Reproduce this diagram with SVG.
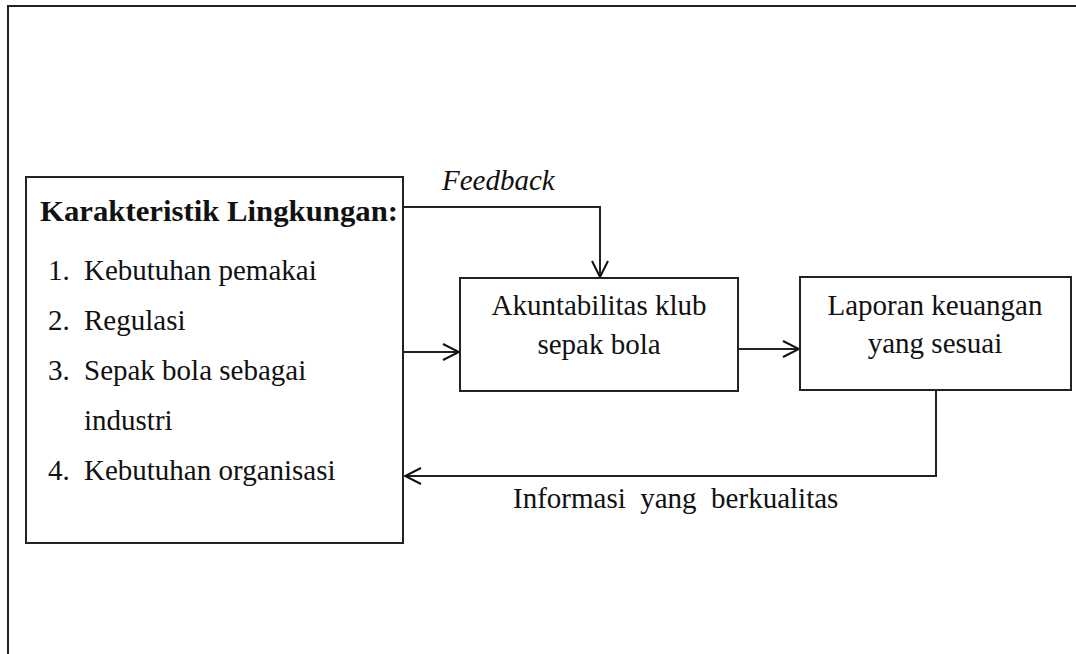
<svg xmlns="http://www.w3.org/2000/svg" width="1076" height="654" viewBox="0 0 1076 654">
<defs>
<marker id="arr" viewBox="0 0 20 20" refX="18" refY="10" markerWidth="20" markerHeight="20" markerUnits="userSpaceOnUse" orient="auto">
<path d="M2,2 L18,10 L2,18" fill="none" stroke="#111" stroke-width="2"/>
</marker>
<style>
.box{fill:#fff;stroke:#222;stroke-width:2}
.ln{fill:none;stroke:#222;stroke-width:2}
.t{font-family:"Liberation Serif","Times New Roman",serif;font-size:29px;fill:#111}
.c{text-anchor:middle}
</style>
</defs>
<rect width="1076" height="654" fill="#fff"/>
<g id="frame">
<path class="ln" d="M8,654 L8,6 L1076,6"/>
</g>
<g id="connectors">
<path class="ln" d="M403,207 L600,207 L600,277" marker-end="url(#arr)"/>
<path class="ln" d="M403,352 L459,352" marker-end="url(#arr)"/>
<path class="ln" d="M738,349 L799,349" marker-end="url(#arr)"/>
<path class="ln" d="M936,391 L936,476 L405,476" marker-end="url(#arr)"/>
<text class="t" x="442" y="190" font-style="italic">Feedback</text>
<text class="t" x="513" y="508" xml:space="preserve">Informasi  yang  berkualitas</text>
</g>
<g id="env">
<rect class="box" x="26" y="177" width="377" height="366"/>
<text class="t" x="40" y="221" font-weight="bold" textLength="358" lengthAdjust="spacingAndGlyphs">Karakteristik Lingkungan:</text>
<text class="t" x="48" y="280">1.</text><text class="t" x="84" y="280">Kebutuhan pemakai</text>
<text class="t" x="48" y="330">2.</text><text class="t" x="84" y="330">Regulasi</text>
<text class="t" x="48" y="380">3.</text><text class="t" x="84" y="380">Sepak bola sebagai</text>
<text class="t" x="84" y="430">industri</text>
<text class="t" x="48" y="480">4.</text><text class="t" x="84" y="480">Kebutuhan organisasi</text>
</g>
<g id="akuntabilitas">
<rect class="box" x="460" y="278" width="278" height="113"/>
<text class="t c" x="599" y="315">Akuntabilitas klub</text>
<text class="t c" x="599" y="354">sepak bola</text>
</g>
<g id="laporan">
<rect class="box" x="800" y="277" width="271" height="113"/>
<text class="t c" x="935" y="315">Laporan keuangan</text>
<text class="t c" x="935" y="353">yang sesuai</text>
</g>
</svg>
